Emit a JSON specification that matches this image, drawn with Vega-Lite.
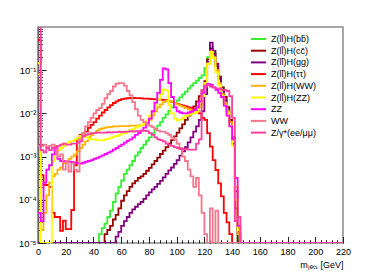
{
"$schema": "https://vega.github.io/schema/vega-lite/v6.json",
"width": 305, "height": 216,
"autosize": {"type": "none"},
"padding": {"left": 38, "top": 27, "right": 38, "bottom": 30},
"background": "white",
"config": {"view": {"stroke": "#8a8a8a", "strokeWidth": 1.5}, "font": "Liberation Sans"},
"data": {"values": [
{"x":0,"bb":1e-5,"cc":1e-5,"gg":1e-5,"tt":0.5,"hww":0.08,"hzz":0.145,"zz":5e-5,"ww":1.78e-3,"zg":1.5},
{"x":2,"bb":1e-5,"cc":1e-5,"gg":1e-5,"tt":3.7e-4,"hww":2.0e-5,"hzz":1e-5,"zz":3.2e-5,"ww":1.78e-3,"zg":1.41e-3},
{"x":4,"bb":1e-5,"cc":1e-5,"gg":1e-5,"tt":2.2e-4,"hww":5.0e-5,"hzz":1e-5,"zz":2.5e-4,"ww":1.9e-3,"zg":1.26e-3},
{"x":6,"bb":1e-5,"cc":1e-5,"gg":1e-5,"tt":2.2e-4,"hww":1.26e-4,"hzz":1e-5,"zz":5.0e-4,"ww":1.66e-3,"zg":1.58e-3},
{"x":8,"bb":1e-5,"cc":1e-5,"gg":1e-5,"tt":2.0e-4,"hww":2.5e-4,"hzz":1e-5,"zz":6.3e-4,"ww":1.78e-3,"zg":1.41e-3},
{"x":10,"bb":1e-5,"cc":1e-5,"gg":1e-5,"tt":5.0e-5,"hww":3.5e-4,"hzz":7.9e-4,"zz":1.12e-3,"ww":1.9e-3,"zg":1.58e-3},
{"x":12,"bb":1e-5,"cc":1e-5,"gg":1e-5,"tt":4.0e-5,"hww":4.0e-4,"hzz":1.12e-3,"zz":1.58e-3,"ww":1.78e-3,"zg":1.66e-3},
{"x":14,"bb":1e-5,"cc":1e-5,"gg":1e-5,"tt":4.0e-5,"hww":5.0e-4,"hzz":1.41e-3,"zz":8.9e-4,"ww":1.0e-3,"zg":1.78e-3},
{"x":16,"bb":1e-5,"cc":1e-5,"gg":1e-5,"tt":1.9e-5,"hww":5.6e-4,"hzz":1.58e-3,"zz":7.9e-4,"ww":1.12e-3,"zg":1.9e-3},
{"x":18,"bb":1e-5,"cc":1e-5,"gg":1e-5,"tt":3.3e-5,"hww":7.1e-4,"hzz":1.74e-3,"zz":7.9e-4,"ww":5.0e-4,"zg":2.0e-3},
{"x":20,"bb":1e-5,"cc":1e-5,"gg":1e-5,"tt":2.1e-5,"hww":7.9e-4,"hzz":2.0e-3,"zz":7.6e-4,"ww":7.9e-4,"zg":1.9e-3},
{"x":22,"bb":1e-5,"cc":1e-5,"gg":1e-5,"tt":2.1e-5,"hww":8.9e-4,"hzz":2.2e-3,"zz":7.6e-4,"ww":4.5e-4,"zg":1.9e-3},
{"x":24,"bb":1e-5,"cc":1e-5,"gg":1e-5,"tt":5.8e-5,"hww":1.0e-3,"hzz":2.3e-3,"zz":7.4e-4,"ww":7.1e-4,"zg":2.0e-3},
{"x":26,"bb":1e-5,"cc":1e-5,"gg":1e-5,"tt":6.3e-4,"hww":1.12e-3,"hzz":2.5e-3,"zz":7.2e-4,"ww":5.0e-4,"zg":2.0e-3},
{"x":28,"bb":1e-5,"cc":1e-5,"gg":1e-5,"tt":2.6e-3,"hww":1.32e-3,"hzz":2.7e-3,"zz":7.1e-4,"ww":4.5e-4,"zg":2.1e-3},
{"x":30,"bb":1e-5,"cc":1e-5,"gg":1e-5,"tt":3.2e-3,"hww":1.58e-3,"hzz":3.0e-3,"zz":6.9e-4,"ww":2.4e-3,"zg":2.24e-3},
{"x":32,"bb":1e-5,"cc":1e-5,"gg":1e-5,"tt":3.4e-3,"hww":1.9e-3,"hzz":3.2e-3,"zz":7.2e-4,"ww":3.5e-3,"zg":3.0e-3},
{"x":34,"bb":1e-5,"cc":1e-5,"gg":1e-5,"tt":3.8e-3,"hww":2.24e-3,"hzz":2.8e-3,"zz":7.6e-4,"ww":5.0e-3,"zg":3.2e-3},
{"x":36,"bb":1e-5,"cc":1e-5,"gg":1e-5,"tt":4.6e-3,"hww":2.8e-3,"hzz":2.6e-3,"zz":7.9e-4,"ww":6.3e-3,"zg":3.3e-3},
{"x":38,"bb":1e-5,"cc":1e-5,"gg":1e-5,"tt":5.4e-3,"hww":3.2e-3,"hzz":2.5e-3,"zz":8.3e-4,"ww":7.9e-3,"zg":3.5e-3},
{"x":40,"bb":1e-5,"cc":1e-5,"gg":1e-5,"tt":6.3e-3,"hww":3.5e-3,"hzz":2.5e-3,"zz":8.9e-4,"ww":1.0e-2,"zg":3.5e-3},
{"x":42,"bb":1e-5,"cc":1e-5,"gg":1e-5,"tt":7.6e-3,"hww":4.0e-3,"hzz":2.4e-3,"zz":9.3e-4,"ww":1.2e-2,"zg":3.6e-3},
{"x":44,"bb":1.6e-5,"cc":1e-5,"gg":1e-5,"tt":8.9e-3,"hww":4.3e-3,"hzz":2.4e-3,"zz":1.0e-3,"ww":1.32e-2,"zg":3.6e-3},
{"x":46,"bb":2.2e-5,"cc":1e-5,"gg":1e-5,"tt":1.05e-2,"hww":4.5e-3,"hzz":2.4e-3,"zz":1.07e-3,"ww":1.66e-2,"zg":3.6e-3},
{"x":48,"bb":2.8e-5,"cc":1.6e-5,"gg":1e-5,"tt":1.2e-2,"hww":4.7e-3,"hzz":2.5e-3,"zz":1.15e-3,"ww":2.24e-2,"zg":3.6e-3},
{"x":50,"bb":4.0e-5,"cc":2.0e-5,"gg":1e-5,"tt":1.38e-2,"hww":4.8e-3,"hzz":2.6e-3,"zz":1.23e-3,"ww":2.8e-2,"zg":3.7e-3},
{"x":52,"bb":5.6e-5,"cc":2.5e-5,"gg":1e-5,"tt":1.55e-2,"hww":4.9e-3,"hzz":2.75e-3,"zz":1.32e-3,"ww":3.3e-2,"zg":3.6e-3},
{"x":54,"bb":8.9e-5,"cc":3.5e-5,"gg":1e-5,"tt":1.74e-2,"hww":5.0e-3,"hzz":2.9e-3,"zz":1.45e-3,"ww":4.2e-2,"zg":3.7e-3},
{"x":56,"bb":1.4e-4,"cc":4.5e-5,"gg":1.4e-5,"tt":1.9e-2,"hww":5.0e-3,"hzz":3.0e-3,"zz":1.58e-3,"ww":4.8e-2,"zg":3.7e-3},
{"x":58,"bb":2.0e-4,"cc":6.3e-5,"gg":1.8e-5,"tt":2.04e-2,"hww":5.1e-3,"hzz":3.2e-3,"zz":1.74e-3,"ww":5.0e-2,"zg":3.8e-3},
{"x":60,"bb":2.8e-4,"cc":9.5e-5,"gg":2.5e-5,"tt":2.14e-2,"hww":5.1e-3,"hzz":3.4e-3,"zz":1.9e-3,"ww":5.0e-2,"zg":3.7e-3},
{"x":62,"bb":4.0e-4,"cc":1.26e-4,"gg":3.2e-5,"tt":2.2e-2,"hww":5.1e-3,"hzz":3.5e-3,"zz":2.1e-3,"ww":4.4e-2,"zg":3.8e-3},
{"x":64,"bb":5.0e-4,"cc":1.58e-4,"gg":4.0e-5,"tt":2.24e-2,"hww":5.1e-3,"hzz":3.8e-3,"zz":2.3e-3,"ww":3.3e-2,"zg":3.8e-3},
{"x":66,"bb":6.3e-4,"cc":2.0e-4,"gg":5.0e-5,"tt":2.27e-2,"hww":5.2e-3,"hzz":4.1e-3,"zz":2.5e-3,"ww":2.6e-2,"zg":3.9e-3},
{"x":68,"bb":7.9e-4,"cc":2.4e-4,"gg":6.0e-5,"tt":2.27e-2,"hww":5.2e-3,"hzz":4.4e-3,"zz":2.8e-3,"ww":1.82e-2,"zg":3.8e-3},
{"x":70,"bb":1.05e-3,"cc":2.75e-4,"gg":6.9e-5,"tt":2.25e-2,"hww":5.2e-3,"hzz":4.7e-3,"zz":3.2e-3,"ww":1.26e-2,"zg":3.9e-3},
{"x":72,"bb":1.26e-3,"cc":3.2e-4,"gg":7.9e-5,"tt":2.25e-2,"hww":5.3e-3,"hzz":5.0e-3,"zz":3.5e-3,"ww":8.9e-3,"zg":3.9e-3},
{"x":74,"bb":1.58e-3,"cc":3.5e-4,"gg":8.9e-5,"tt":2.22e-2,"hww":5.4e-3,"hzz":5.4e-3,"zz":4.0e-3,"ww":7.1e-3,"zg":4.0e-3},
{"x":76,"bb":1.9e-3,"cc":4.0e-4,"gg":1.05e-4,"tt":2.2e-2,"hww":5.6e-3,"hzz":5.9e-3,"zz":4.7e-3,"ww":6.3e-3,"zg":4.0e-3},
{"x":78,"bb":2.34e-3,"cc":4.7e-4,"gg":1.26e-4,"tt":2.2e-2,"hww":6.0e-3,"hzz":6.9e-3,"zz":5.6e-3,"ww":5.6e-3,"zg":3.9e-3},
{"x":80,"bb":2.8e-3,"cc":5.5e-4,"gg":1.48e-4,"tt":2.18e-2,"hww":7.1e-3,"hzz":8.9e-3,"zz":7.6e-3,"ww":5.2e-3,"zg":3.5e-3},
{"x":82,"bb":3.4e-3,"cc":6.6e-4,"gg":1.74e-4,"tt":2.15e-2,"hww":8.9e-3,"hzz":1.12e-2,"zz":1.12e-2,"ww":4.8e-3,"zg":3.2e-3},
{"x":84,"bb":4.2e-3,"cc":7.9e-4,"gg":2.0e-4,"tt":2.12e-2,"hww":1.12e-2,"hzz":1.51e-2,"zz":1.78e-2,"ww":4.4e-3,"zg":2.8e-3},
{"x":86,"bb":5.2e-3,"cc":9.5e-4,"gg":2.34e-4,"tt":2.1e-2,"hww":1.38e-2,"hzz":2.1e-2,"zz":3.0e-2,"ww":4.0e-3,"zg":2.5e-3},
{"x":88,"bb":6.3e-3,"cc":1.15e-3,"gg":2.75e-4,"tt":2.08e-2,"hww":1.62e-2,"hzz":2.8e-2,"zz":6.0e-2,"ww":3.8e-3,"zg":2.4e-3},
{"x":90,"bb":7.9e-3,"cc":1.38e-3,"gg":3.3e-4,"tt":2.05e-2,"hww":1.82e-2,"hzz":3.6e-2,"zz":0.11,"ww":3.8e-3,"zg":2.24e-3},
{"x":92,"bb":9.5e-3,"cc":1.66e-3,"gg":4.0e-4,"tt":2.0e-2,"hww":1.95e-2,"hzz":3.4e-2,"zz":0.105,"ww":3.5e-3,"zg":2.0e-3},
{"x":94,"bb":1.15e-2,"cc":2.0e-3,"gg":4.8e-4,"tt":1.9e-2,"hww":1.95e-2,"hzz":1.58e-2,"zz":5.0e-2,"ww":3.2e-3,"zg":1.9e-3},
{"x":96,"bb":1.38e-2,"cc":2.4e-3,"gg":5.6e-4,"tt":1.82e-2,"hww":1.86e-2,"hzz":1.0e-2,"zz":2.4e-2,"ww":2.8e-3,"zg":1.78e-3},
{"x":98,"bb":1.66e-2,"cc":2.95e-3,"gg":6.8e-4,"tt":1.74e-2,"hww":1.74e-2,"hzz":7.6e-3,"zz":1.38e-2,"ww":2.5e-3,"zg":1.66e-3},
{"x":100,"bb":2.0e-2,"cc":3.6e-3,"gg":8.3e-4,"tt":1.66e-2,"hww":1.62e-2,"hzz":6.9e-3,"zz":1.12e-2,"ww":2.0e-3,"zg":1.58e-3},
{"x":102,"bb":2.34e-2,"cc":4.5e-3,"gg":1.05e-3,"tt":1.58e-2,"hww":1.51e-2,"hzz":7.2e-3,"zz":1.05e-2,"ww":1.58e-3,"zg":1.5e-3},
{"x":104,"bb":2.75e-2,"cc":5.6e-3,"gg":1.32e-3,"tt":1.51e-2,"hww":1.41e-2,"hzz":7.9e-3,"zz":1.0e-2,"ww":1.0e-3,"zg":1.5e-3},
{"x":106,"bb":3.2e-2,"cc":7.1e-3,"gg":1.66e-3,"tt":1.45e-2,"hww":1.32e-2,"hzz":8.7e-3,"zz":1.0e-2,"ww":7.9e-4,"zg":1.5e-3},
{"x":108,"bb":3.8e-2,"cc":8.9e-3,"gg":2.14e-3,"tt":1.38e-2,"hww":1.26e-2,"hzz":9.3e-3,"zz":1.05e-2,"ww":5.0e-4,"zg":1.45e-3},
{"x":110,"bb":4.4e-2,"cc":1.12e-2,"gg":2.8e-3,"tt":1.32e-2,"hww":1.2e-2,"hzz":9.8e-3,"zz":1.1e-2,"ww":3.5e-4,"zg":1.45e-3},
{"x":112,"bb":5.0e-2,"cc":1.45e-2,"gg":3.8e-3,"tt":1.26e-2,"hww":1.17e-2,"hzz":1.02e-2,"zz":1.2e-2,"ww":2.0e-4,"zg":1.45e-3},
{"x":114,"bb":5.75e-2,"cc":1.9e-2,"gg":5.0e-3,"tt":1.15e-2,"hww":1.26e-2,"hzz":1.1e-2,"zz":1.38e-2,"ww":3.2e-4,"zg":2.0e-3},
{"x":116,"bb":6.6e-2,"cc":2.5e-2,"gg":7.1e-3,"tt":1.0e-2,"hww":1.58e-2,"hzz":1.41e-2,"zz":1.9e-2,"ww":1.26e-4,"zg":2.5e-3},
{"x":118,"bb":7.6e-2,"cc":3.4e-2,"gg":1.12e-2,"tt":7.9e-3,"hww":2.5e-2,"hzz":2.5e-2,"zz":3.0e-2,"ww":5.0e-5,"zg":3.5e-2},
{"x":120,"bb":0.112,"cc":5.6e-2,"gg":2.8e-2,"tt":7.1e-3,"hww":5.0e-2,"hzz":5.0e-2,"zz":4.4e-2,"ww":1.6e-5,"zg":4.2e-2},
{"x":122,"bb":0.2,"cc":0.178,"gg":0.158,"tt":3.5e-3,"hww":0.141,"hzz":0.141,"zz":4.8e-2,"ww":1e-5,"zg":4.5e-2},
{"x":124,"bb":0.355,"cc":0.316,"gg":0.437,"tt":1.7e-3,"hww":0.263,"hzz":0.27,"zz":4.6e-2,"ww":6.3e-5,"zg":4.2e-2},
{"x":126,"bb":0.25,"cc":0.24,"gg":0.28,"tt":8.3e-4,"hww":0.2,"hzz":0.19,"zz":4.0e-2,"ww":1e-5,"zg":4.0e-2},
{"x":128,"bb":0.126,"cc":0.126,"gg":0.141,"tt":4.9e-4,"hww":0.1,"hzz":8.9e-2,"zz":3.5e-2,"ww":5.6e-5,"zg":3.8e-2},
{"x":130,"bb":7.1e-2,"cc":7.1e-2,"gg":6.3e-2,"tt":2.4e-4,"hww":5.0e-2,"hzz":4.5e-2,"zz":3.0e-2,"ww":1e-5,"zg":3.8e-2},
{"x":132,"bb":4.0e-2,"cc":4.0e-2,"gg":3.5e-2,"tt":1.2e-4,"hww":2.8e-2,"hzz":2.5e-2,"zz":2.4e-2,"ww":1e-5,"zg":3.5e-2},
{"x":134,"bb":2.4e-2,"cc":2.4e-2,"gg":2.0e-2,"tt":5.0e-5,"hww":1.78e-2,"hzz":1.58e-2,"zz":1.51e-2,"ww":1e-5,"zg":3.5e-2},
{"x":136,"bb":1.4e-2,"cc":1.4e-2,"gg":1.12e-2,"tt":3.0e-5,"hww":1.12e-2,"hzz":1.0e-2,"zz":8.9e-3,"ww":1e-5,"zg":3.3e-2},
{"x":138,"bb":7.1e-3,"cc":7.1e-3,"gg":6.3e-3,"tt":1.6e-5,"hww":6.3e-3,"hzz":5.0e-3,"zz":5.0e-3,"ww":1e-5,"zg":2.5e-2},
{"x":140,"bb":2.0e-3,"cc":2.0e-3,"gg":2.8e-3,"tt":1e-5,"hww":2.5e-3,"hzz":1.78e-3,"zz":2.5e-3,"ww":1e-5,"zg":7.9e-3},
{"x":142,"bb":5.0e-5,"cc":6.3e-5,"gg":1.58e-4,"tt":1e-5,"hww":2.0e-4,"hzz":1.0e-4,"zz":3.2e-4,"ww":1e-5,"zg":3.2e-5},
{"x":144,"bb":1e-5,"cc":1e-5,"gg":1.6e-5,"tt":1e-5,"hww":1.6e-5,"hzz":2.0e-5,"zz":2.5e-5,"ww":1e-5,"zg":4.0e-5},
{"x":146,"bb":1e-5,"cc":1e-5,"gg":1e-5,"tt":1e-5,"hww":1e-5,"hzz":1e-5,"zz":1e-5,"ww":1e-5,"zg":1e-5},
{"x":220,"bb":1e-5,"cc":1e-5,"gg":1e-5,"tt":1e-5,"hww":1e-5,"hzz":1e-5,"zz":1e-5,"ww":1e-5,"zg":1e-5}
]},
"transform": [{"fold": ["bb","cc","gg","tt","hww","hzz","zz","ww","zg"], "as": ["key","value"]}],
"mark": {"type": "line", "interpolate": "step-after", "clip": true, "strokeWidth": 1.8},
"encoding": {
 "x": {"field": "x", "type": "quantitative",
  "scale": {"domain": [0, 220], "nice": false, "zero": false},
  "axis": {"values": [0,4,8,12,16,20,24,28,32,36,40,44,48,52,56,60,64,68,72,76,80,84,88,92,96,100,104,108,112,116,120,124,128,132,136,140,144,148,152,156,160,164,168,172,176,180,184,188,192,196,200,204,208,212,216,220],
   "labelExpr": "datum.value % 20 == 0 ? datum.label : ''",
   "labelOverlap": false, "labelFlush": false,
   "tickSize": {"condition": {"test": "datum.value % 20 == 0", "value": -6.5}, "value": -3.3},
   "tickColor": "#222", "tickWidth": 1,
   "labelPadding": 10.5, "labelFontSize": 9, "labelColor": "#000", "labelFont": "Liberation Sans",
   "grid": false, "domain": false,
   "title": "mⱼₑₜₛ [GeV]", "titleFont": "Liberation Sans", "titleFontSize": 9, "titleFontWeight": "normal", "titleColor": "#000",
   "titleAnchor": "end", "titleAlign": "right", "titleBaseline": "alphabetic", "titleX": 305, "titleY": 24}},
 "y": {"field": "value", "type": "quantitative",
  "scale": {"type": "log", "domain": [1e-5, 1], "nice": false},
  "axis": {"values": [1e-5,2e-5,3e-5,4e-5,5e-5,6e-5,7e-5,8e-5,9e-5,1e-4,2e-4,3e-4,4e-4,5e-4,6e-4,7e-4,8e-4,9e-4,1e-3,2e-3,3e-3,4e-3,5e-3,6e-3,7e-3,8e-3,9e-3,1e-2,2e-2,3e-2,4e-2,5e-2,6e-2,7e-2,8e-2,9e-2,0.1,0.2,0.3,0.4,0.5,0.6,0.7,0.8,0.9],
   "labelExpr": "abs(log(datum.value)/LN10 - round(log(datum.value)/LN10)) < 0.001 ? '10' + ['⁰','⁻¹','⁻²','⁻³','⁻⁴','⁻⁵'][-round(log(datum.value)/LN10)] : ''",
   "labelOverlap": false, "labelFlush": false,
   "tickSize": {"condition": {"test": "abs(log(datum.value)/LN10 - round(log(datum.value)/LN10)) < 0.001", "value": -8}, "value": -4.3},
   "tickColor": "#222", "tickWidth": 1,
   "labelPadding": 10, "labelFontSize": 9.5, "labelColor": "#000", "labelFont": "Liberation Sans",
   "grid": false, "domain": true, "domainColor": "#666", "domainWidth": 1.5,
   "title": null}},
 "color": {"field": "key", "type": "nominal",
  "scale": {"domain": ["bb","cc","gg","tt","hww","hzz","zz","ww","zg"],
   "range": ["#33ee33","#990000","#800080","#ff0000","#ffb300","#ffff00","#ff00ff","#f4768a","#ff3fa0"]},
  "legend": {"orient": "none", "legendX": 210.5, "legendY": 2, "padding": 4, "title": null,
   "symbolType": "M-1.5,0H1.5", "symbolSize": 100, "symbolStrokeWidth": 2, "symbolOffset": 0,
   "labelOffset": 6.5, "rowPadding": 0.7, "labelFont": "Liberation Sans", "labelFontSize": 9, "labelColor": "#000",
   "fillColor": "white",
   "labelExpr": "datum.label=='bb'?'Z(ll̄)H(bb̄)':datum.label=='cc'?'Z(ll̄)H(cc̄)':datum.label=='gg'?'Z(ll̄)H(gg)':datum.label=='tt'?'Z(ll̄)H(ττ)':datum.label=='hww'?'Z(ll̄)H(WW)':datum.label=='hzz'?'Z(ll̄)H(ZZ)':datum.label=='zz'?'ZZ':datum.label=='ww'?'WW':'Z/γ*(ee/μμ)'"}}
}
}
